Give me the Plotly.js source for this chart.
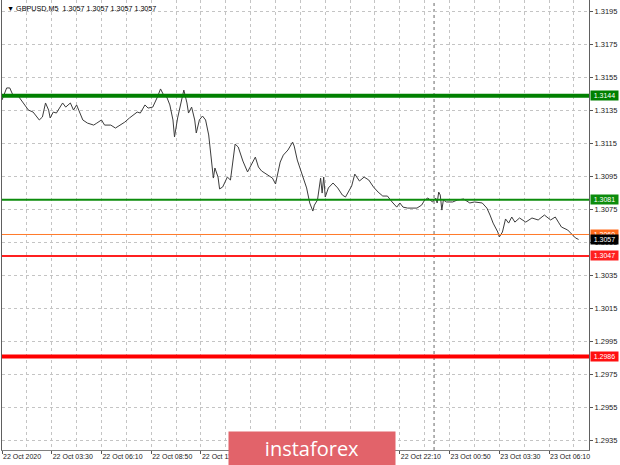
<!DOCTYPE html>
<html>
<head>
<meta charset="utf-8">
<script src="https://cdn.plot.ly/plotly-3.0.1.min.js"></script>
<style>
  html, body { margin: 0; padding: 0; background: #ffffff; }
  #chart { width: 620px; height: 465px; }
</style>
</head>
<body>
<div id="chart"></div>
<script>
// GBPUSD M5 close prices; bar index 0 = 22 Oct 2020 00:50 (each bar = 5 minutes)
const barIndex = [0,2,3,5,7,10,14,17,20,23,24,26,28,30,31,33,35,39,41,44,46,48,50,52,55,59,61,64,66,70,73,76,79,82,87,89,92,94,97,100,102,104,106,108,110,111,113,116,117,119,120,122,124,125,127,129,131,133,134,136,137,139,140,142,145,147,150,152,155,158,163,165,167,171,174,176,179,181,184,187,188,190,192,194,196,198,200,201,203,205,206,207,208,210,213,216,219,221,223,225,227,230,233,236,239,242,245,248,251,254,256,258,261,264,267,270,272,274,277,279,280,281,282,283,284,286,290,293,297,301,304,309,312,314,316,319,320,322,324,326,328,330,333,337,341,345,349,353,356,358,360,364,367,369,371];
const closePrice = [1.31415,1.31457,1.31488,1.31488,1.31445,1.31445,1.31397,1.31354,1.31342,1.31306,1.31294,1.31312,1.31397,1.31354,1.31306,1.31342,1.31336,1.31397,1.31372,1.31397,1.31354,1.31385,1.31336,1.31294,1.31275,1.31263,1.31275,1.31294,1.31263,1.31263,1.31245,1.31263,1.31281,1.31306,1.31342,1.31336,1.31385,1.31366,1.31372,1.31433,1.31482,1.31445,1.31433,1.31385,1.31294,1.31191,1.31306,1.31433,1.31475,1.31397,1.31336,1.31372,1.31294,1.31215,1.31294,1.31318,1.31294,1.31203,1.31100,1.30942,1.31003,1.30948,1.30876,1.30888,1.30948,1.30930,1.31148,1.31130,1.31045,1.30979,1.31069,1.31009,1.30985,1.30960,1.30942,1.30906,1.31039,1.31081,1.31112,1.31160,1.31136,1.31051,1.30991,1.30930,1.30882,1.30791,1.30742,1.30778,1.30809,1.30942,1.30851,1.30948,1.30827,1.30882,1.30912,1.30882,1.30839,1.30827,1.30863,1.30894,1.30966,1.30924,1.30948,1.30930,1.30888,1.30857,1.30833,1.30833,1.30797,1.30766,1.30791,1.30766,1.30760,1.30760,1.30760,1.30778,1.30809,1.30821,1.30797,1.30821,1.30791,1.30857,1.30839,1.30748,1.30809,1.30797,1.30797,1.30809,1.30815,1.30791,1.30797,1.30791,1.30760,1.30718,1.30669,1.30615,1.30585,1.30615,1.30694,1.30669,1.30706,1.30675,1.30700,1.30675,1.30700,1.30688,1.30718,1.30688,1.30706,1.30675,1.30645,1.30627,1.30597,1.30579,1.3057];

// Horizontal levels drawn on the chart
const resistanceLevels = [1.3144, 1.3081];
const supportLevels = [1.3047, 1.2986];
const referenceLevel = 1.3060;

// Time axis labels (bar index -> label)
const xTickBars = [0,32,64,96,128,160,192,224,256,288,320,352];
const xTickLabels = ['22 Oct 2020','22 Oct 03:30','22 Oct 06:10','22 Oct 08:50','22 Oct 11:30','22 Oct 14:10','22 Oct 16:50','22 Oct 19:30','22 Oct 22:10','23 Oct 00:50','23 Oct 03:30','23 Oct 06:10'];
const daySeparatorBar = 278; // 23 Oct 00:00
const symbolLabel = '\u25BC GBPUSD,M5  1.3057 1.3057 1.3057 1.3057';

const lastPrice = closePrice[closePrice.length - 1];
const FONT = 'Liberation Sans, Arial, DejaVu Sans, sans-serif';
const GRID = '#c4c4c4';

const shapes = [];
const annotations = [];

function level(value, color, width) {
  shapes.push({type:'line', xref:'paper', x0:0, x1:1, yref:'y', y0:value, y1:value,
               line:{color:color, width:width}, layer:'above'});
}
function box(value, bg) {
  annotations.push({xref:'paper', x:1, xanchor:'left', xshift:1, yref:'y', y:value, yanchor:'middle',
    text:value.toFixed(4), showarrow:false, bgcolor:bg, borderpad:1, width:25, height:7,
    font:{family:FONT, size:7, color:'#ffffff'}});
}

level(resistanceLevels[0], '#008000', 4);
level(resistanceLevels[1], '#0c8c0c', 2);
level(referenceLevel, '#ff7a2a', 1);
level(supportLevels[0], '#ff2020', 2);
level(supportLevels[1], '#ff0000', 4);

shapes.push({type:'line', xref:'x', x0:daySeparatorBar, x1:daySeparatorBar, yref:'paper', y0:0, y1:1,
             line:{color:'#666666', width:1, dash:'dot'}, layer:'below'});

box(resistanceLevels[0], '#008000');
box(resistanceLevels[1], '#0c8c0c');
box(referenceLevel, '#ff6a1a');
box(lastPrice, '#000000');
box(supportLevels[0], '#ff2020');
box(supportLevels[1], '#ff1010');

annotations.push({xref:'paper', yref:'paper', x:0, y:1, xanchor:'left', yanchor:'top', xshift:3, yshift:-2,
  text:symbolLabel, showarrow:false, font:{family:FONT, size:7.2, color:'#000000'}});

annotations.push({xref:'paper', yref:'paper', x:0.528, y:0.0033, xanchor:'center', yanchor:'middle',
  text:'instaforex', showarrow:false, bgcolor:'#e2636a', width:166, height:33, borderpad:0,
  font:{family:'Open Sans, Liberation Sans, sans-serif', size:20, color:'#ffffff'}});

const trace = {
  x: barIndex, y: closePrice, type:'scatter', mode:'lines',
  line:{color:'#3c3c3c', width:1}, hoverinfo:'skip'
};

const layout = {
  width:620, height:465,
  margin:{l:2, r:31, t:0, b:15, pad:0},
  paper_bgcolor:'#ffffff', plot_bgcolor:'#ffffff',
  showlegend:false,
  xaxis:{
    range:[0, 377.7], tickmode:'array', tickvals:xTickBars, ticktext:xTickLabels,
    ticks:'outside', ticklen:3, tickcolor:'#555', tickangle:0, ticklabelposition:'outside right',
    automargin:false,
    tickfont:{family:FONT, size:7, color:'#222'},
    showline:true, linecolor:'#808080', linewidth:1, mirror:true,
    showgrid:true, gridcolor:GRID, griddash:'3px,3px', gridwidth:1, zeroline:false,
    minor:{tickmode:'linear', tick0:0, dtick:16, showgrid:true, gridcolor:GRID, griddash:'3px,3px', gridwidth:1, ticks:''}
  },
  yaxis:{
    side:'right', range:[1.29294, 1.32021], tickmode:'linear', tick0:1.2935, dtick:0.002,
    tickformat:'.4f', ticks:'outside', ticklen:3, tickcolor:'#555', automargin:false,
    tickfont:{family:FONT, size:7.5, color:'#222'},
    showline:true, linecolor:'#606060', linewidth:1, mirror:true,
    showgrid:true, gridcolor:GRID, griddash:'3px,3px', gridwidth:1, zeroline:false
  },
  shapes:shapes,
  annotations:annotations
};

Plotly.newPlot('chart', [trace], layout, {staticPlot:true, displayModeBar:false});
</script>
</body>
</html>
